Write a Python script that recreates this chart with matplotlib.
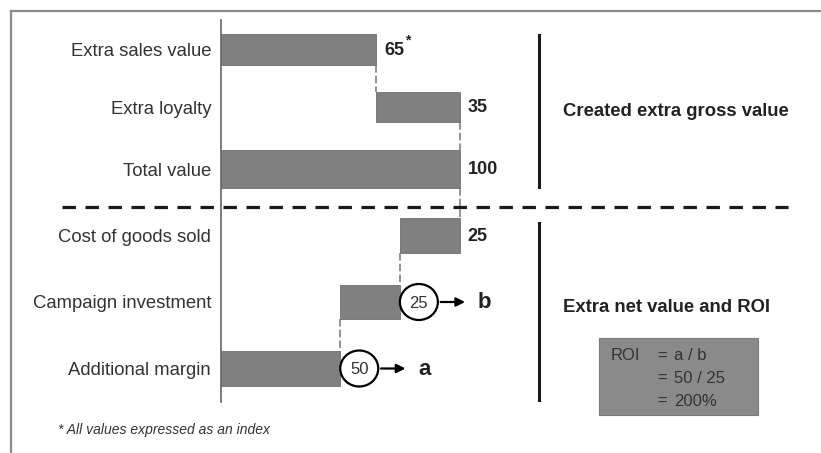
import matplotlib.pyplot as plt
from matplotlib.patches import Rectangle, Ellipse
from matplotlib.lines import Line2D

plt.rcParams['font.family'] = ['Liberation Sans', 'DejaVu Sans']

labels = ['Extra sales value', 'Extra loyalty', 'Total value',
          'Cost of goods sold', 'Campaign investment', 'Additional margin']
values = [65, 35, 100, 25, 25, 50]
kinds = ['up', 'up', 'total', 'down', 'down', 'total']
circled = [False, False, False, False, True, True]
tags = ['', '', '', '', 'b', 'a']
roi_lines = [('ROI', '=', 'a / b'), ('', '=', '50 / 25'), ('', '=', '200%')]

W, H = 821, 453
PX = 2.385          # pixels per index point
X0 = 221            # pixel column of the zero line
rows = [49.5, 107, 169, 235.5, 302, 368.5]
heights = [31, 30, 38, 35, 34, 35]

BAR = '#808080'
TXT = '#333333'


def px2x(p):
    return (p - X0) / PX


fig = plt.figure(figsize=(W / 100, H / 100), dpi=100)
ax = fig.add_axes([0, 0, 1, 1])
ax.set_xlim(px2x(0), px2x(W))
ax.set_ylim(H, 0)
ax.axis('off')

# outer frame (top and left edges)
fig.add_artist(Line2D([10.5 / W, 10.5 / W], [0, 1 - 10.5 / H],
                      color='#8c8c8c', lw=1.6))
fig.add_artist(Line2D([10.5 / W, 1], [1 - 10.5 / H, 1 - 10.5 / H],
                      color='#8c8c8c', lw=1.6))

# waterfall bars
level = 0
ends = []
for lab, v, k, y, h in zip(labels, values, kinds, rows, heights):
    if k == 'up':
        left, level = level, level + v
    elif k == 'down':
        level = level - v
        left = level
    else:
        left = 0
        level = v
    ax.barh(y, v, left=left, height=h, color=BAR, edgecolor='#6f6f6f', lw=0.6)
    ax.text(px2x(X0 - 10), y + 2, lab, ha='right', va='center',
            fontsize=13.3, color=TXT)
    ends.append((left, left + v, k))

# dashed connectors between consecutive bars
for i in range(len(values) - 1):
    l0, r0, k0 = ends[i]
    l1, r1, k1 = ends[i + 1]
    if k1 == 'down':
        xc = r1
    elif k1 == 'up':
        xc = l1
    else:
        xc = l0 if k0 == 'down' else r1
    y_top = rows[i] + heights[i] / 2
    y_bot = rows[i + 1] - heights[i + 1] / 2
    ax.plot([xc, xc], [y_top, y_bot], color='#777777', lw=1.1,
            ls=(0, (5, 2)), zorder=1)

# axis line at zero
ax.plot([0, 0], [20, 402], color='#666666', lw=1.2, zorder=3)

# value labels, circles and arrows
R = 19
for i, (v, y) in enumerate(zip(values, rows)):
    l, r, k = ends[i]
    if circled[i]:
        cx = px2x(X0 + r * PX + R)
        ax.add_patch(Ellipse((cx, y), 2 * R / PX, 2 * R - 2, facecolor='white',
                             edgecolor='black', lw=1.6, zorder=4))
        ax.text(cx, y + 1, str(v), ha='center', va='center', fontsize=12,
                color=TXT, zorder=5)
        xs = X0 + r * PX + 2 * R
        ax.annotate('', xy=(px2x(xs + 30), y), xytext=(px2x(xs), y),
                    arrowprops=dict(arrowstyle='-|>', color='black', lw=1.6,
                                    mutation_scale=13))
        ax.text(px2x(xs + 40), y + 1, tags[i], ha='left', va='center',
                fontsize=16, fontweight='bold', color='#222222')
    else:
        xr = X0 + r * PX
        ax.text(px2x(xr + 8), y + 1, str(v), ha='left', va='center',
                fontsize=13, fontweight='bold', color='#222222')
        if i == 0:
            ax.text(px2x(xr + 29), y - 9, '*', ha='left', va='center',
                    fontsize=10, fontweight='bold', color='#222222')

# section divider
ax.plot([px2x(62), px2x(788)], [207, 207], color='#1a1a1a', lw=2.3,
        ls=(0, (4.2, 3.0)), zorder=2)

# right-hand brackets and titles
ax.plot([px2x(539)] * 2, [35, 187], color='#1a1a1a', lw=2.2)
ax.plot([px2x(539)] * 2, [223, 400], color='#1a1a1a', lw=2.2)
ax.text(px2x(563), 112, 'Created extra gross value', ha='left', va='center',
        fontsize=13.3, fontweight='bold', color='#222222')
ax.text(px2x(563), 308, 'Extra net value and ROI', ha='left', va='center',
        fontsize=13.3, fontweight='bold', color='#222222')

# ROI box
ax.add_patch(Rectangle((px2x(599), 338), (758 - 599) / PX, 77,
                       facecolor='#8a8a8a', edgecolor='#7a7a7a', lw=0.8))
for j, (a, eq, b) in enumerate(roi_lines):
    yy = 356 + j * 22.5
    ax.text(px2x(611), yy, a, ha='left', va='center', fontsize=12, color=TXT)
    ax.text(px2x(657), yy, eq, ha='left', va='center', fontsize=12, color=TXT)
    ax.text(px2x(674), yy, b, ha='left', va='center', fontsize=12, color=TXT)

ax.text(px2x(58), 430, '* All values expressed as an index', ha='left',
        va='center', fontsize=10, style='italic', color=TXT)

fig.savefig('out.png', dpi=100)
